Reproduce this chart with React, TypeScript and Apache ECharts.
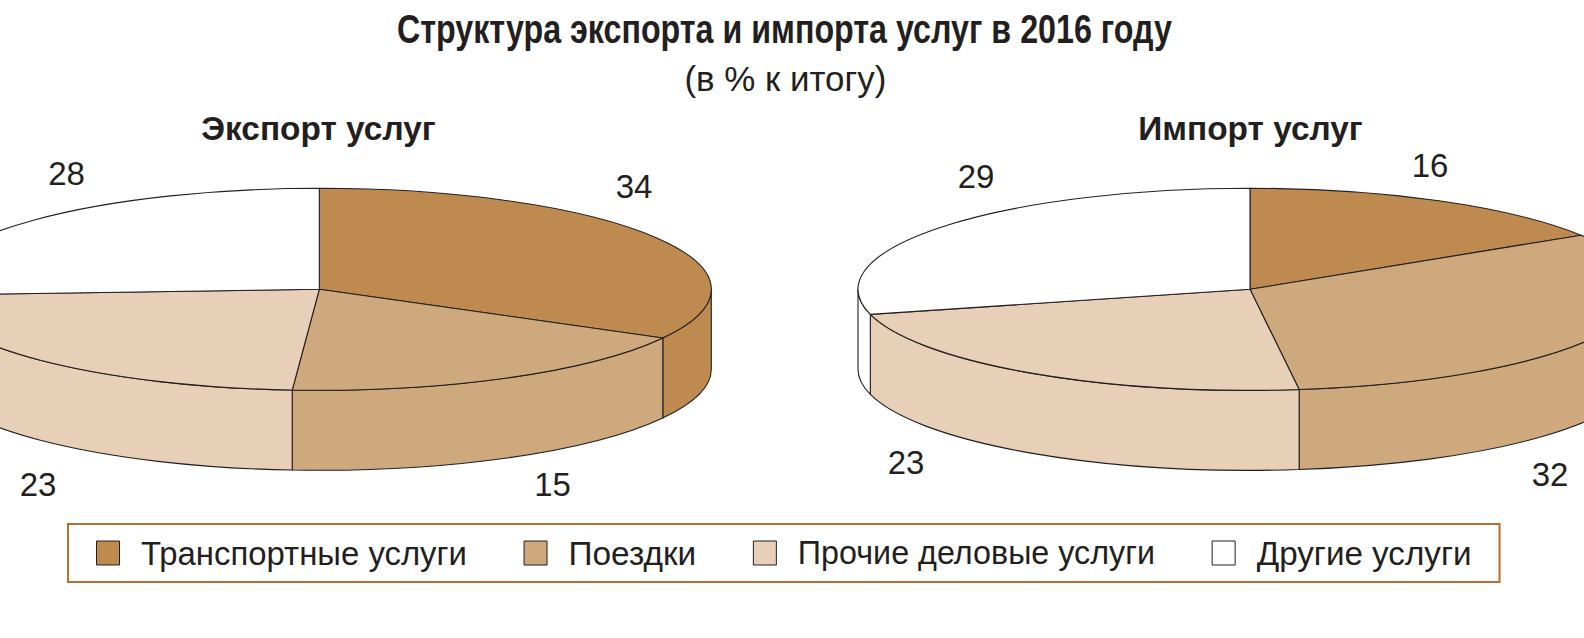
import React, { useEffect, useRef } from "react";
import * as echarts from "echarts";

const mainTitle = "Структура экспорта и импорта услуг в 2016 году";
const subTitle = "(в % к итогу)";
const pieTitles = ["Экспорт услуг", "Импорт услуг"];
const categories = ["Транспортные услуги", "Поездки", "Прочие деловые услуги", "Другие услуги"];

// Values printed next to the slices.
const exportLabels = [34, 15, 23, 28];
const importLabels = [16, 32, 23, 29];
// Slice sizes as the reference actually draws them: the export pie's wedges
// are not in proportion to its printed numbers, the import pie's are.
const exportDrawn = [33, 18.1, 23, 25.9];
const importDrawn = [16, 32, 23, 29];

const colors = ["#BE8A50", "#CFA97E", "#E7CFB8", "#FFFFFF"];
const INK = "#231F20";
const FRAME = "#B0722D";
const FONT = '"Liberation Sans", Arial, sans-serif';

// Layout
const pieCenters = [[319.3, 289.3], [1250, 289.3]];
const RX = 392;
const RY = 101;
const DEPTH = 80;
const labelPositions = [
  [[634, 186], [552.6, 484], [38, 484], [66.5, 173.7]],
  [[1430, 165.7], [1550, 474], [906, 462.7], [976, 176.8]],
];
const legendFontSizes = [32.9, 33.4, 32.3, 33.2];

const rowsFor = (cat: number) =>
  [exportDrawn, importDrawn].map((drawn, pie) => {
    const start = drawn.slice(0, cat).reduce((a, b) => a + b, 0);
    const printed = (pie === 0 ? exportLabels : importLabels)[cat];
    return [pie, start, drawn[cat], printed];
  });

const f = (n: number) => n.toFixed(2);

function makeRenderItem(cat: number) {
  return (_params: any, api: any) => {
    const pie = api.value(0);
    const start = api.value(1);
    const size = api.value(2);
    const [cx, cy] = pieCenters[pie];
    const t0 = (start / 100) * 2 * Math.PI;
    const t1 = ((start + size) / 100) * 2 * Math.PI;
    const pt = (t: number, dy = 0) => [cx + RX * Math.sin(t), cy - RY * Math.cos(t) + dy];
    const a = pt(t0);
    const b = pt(t1);
    const large = t1 - t0 > Math.PI ? 1 : 0;
    const top = `M${f(cx)} ${f(cy)}L${f(a[0])} ${f(a[1])}A${RX} ${RY} 0 ${large} 1 ${f(b[0])} ${f(b[1])}Z`;
    const style = { fill: colors[cat], stroke: INK, lineWidth: 1.1, lineJoin: "round" };
    const children: any[] = [];
    const w0 = Math.max(t0, Math.PI / 2);
    const w1 = Math.min(t1, (3 * Math.PI) / 2);
    if (w0 < w1) {
      const p = pt(w0);
      const q = pt(w1);
      const q2 = pt(w1, DEPTH);
      const p2 = pt(w0, DEPTH);
      const wall = `M${f(p[0])} ${f(p[1])}A${RX} ${RY} 0 0 1 ${f(q[0])} ${f(q[1])}L${f(q2[0])} ${f(q2[1])}A${RX} ${RY} 0 0 0 ${f(p2[0])} ${f(p2[1])}Z`;
      children.push({ type: "path", shape: { pathData: wall }, style });
    }
    children.push({ type: "path", shape: { pathData: top }, style });
    const [lx, ly] = labelPositions[pie][cat];
    children.push({
      type: "text",
      style: {
        text: String(api.value(3)),
        x: lx,
        y: ly,
        align: "center",
        verticalAlign: "middle",
        fill: INK,
        font: `33px ${FONT}`,
      },
    });
    return { type: "group", children };
  };
}

export default function App() {
  const ref = useRef<HTMLDivElement>(null);
  useEffect(() => {
    document.body.style.margin = "0";
    const chart = echarts.init(ref.current!, null, { renderer: "svg" });
    chart.setOption({
      animation: false,
      backgroundColor: "#FFFFFF",
      title: [
        {
          text: pieTitles[0],
          left: 313.5,
          top: 107,
          textAlign: "center",
          textStyle: { fontFamily: FONT, fontWeight: "bold", fontSize: 33.4, color: INK },
        },
        {
          text: pieTitles[1],
          left: 1245.5,
          top: 107,
          textAlign: "center",
          textStyle: { fontFamily: FONT, fontWeight: "bold", fontSize: 33.4, color: INK },
        },
      ],
      graphic: [
        {
          type: "text",
          x: 784.4,
          y: 29.5,
          scaleX: 0.806,
          style: {
            text: mainTitle,
            align: "center",
            verticalAlign: "middle",
            fill: INK,
            font: `bold 40px ${FONT}`,
          },
        },
        {
          type: "text",
          x: 785.4,
          y: 79,
          scaleX: 0.97,
          style: {
            text: subTitle,
            align: "center",
            verticalAlign: "middle",
            fill: INK,
            font: `36px ${FONT}`,
          },
        },
      ],
      legend: {
        left: 68,
        top: 524,
        orient: "horizontal",
        data: categories.map((name, i) => ({
          name,
          icon: "rect",
          textStyle: { fontSize: legendFontSizes[i] },
        })),
        padding: [12, 28, 12, 28],
        itemWidth: 23,
        itemHeight: 24,
        itemGap: 56.6,
        borderColor: FRAME,
        borderWidth: 2,
        selectedMode: false,
        itemStyle: { borderColor: INK, borderWidth: 1, borderJoin: "miter" },
        textStyle: { fontFamily: FONT, fontSize: 33, lineHeight: 34, color: INK, padding: [0, 0, 0, 16.5] },
      },
      series: categories.map((name, cat) => ({
        type: "custom",
        name,
        coordinateSystem: "none",
        silent: true,
        clip: false,
        itemStyle: { color: colors[cat] },
        data: rowsFor(cat),
        renderItem: makeRenderItem(cat),
      })),
    });
    return () => chart.dispose();
  }, []);
  return (
    <div
      ref={ref}
      style={{ position: "absolute", left: 0, top: 0, width: 1584, height: 638 }}
    />
  );
}
